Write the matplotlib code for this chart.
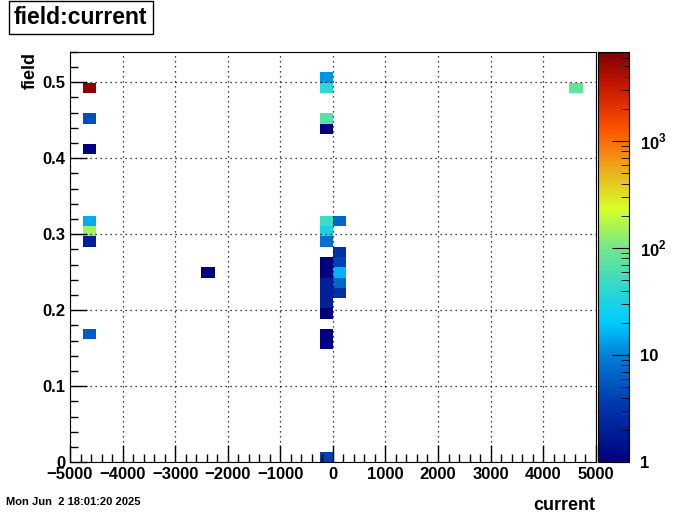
import numpy as np
import matplotlib
matplotlib.use("Agg")
import matplotlib.pyplot as plt
from matplotlib.colors import LinearSegmentedColormap, LogNorm
from matplotlib.ticker import MultipleLocator, FixedLocator

plt.rcParams['font.family'] = ['Liberation Sans', 'DejaVu Sans']
plt.rcParams['mathtext.fontset'] = 'custom'
plt.rcParams['mathtext.rm'] = 'Liberation Sans:bold'
plt.rcParams['mathtext.bf'] = 'Liberation Sans:bold'

# entries of the 2D histogram: bin centres and counts
current = [-4625, -4625, -4625, -4625, -4625, -4625, -4625,
           -2375,
           -125, -125, -125, -125, -125, -125, -125, -125, -125, -125, -125,
           -125, -125, -125, -125, -125,
           125, 125, 125, 125, 125, 125,
           4625]
field = [0.493, 0.452, 0.412, 0.317, 0.304, 0.290, 0.169,
         0.250,
         0.506, 0.493, 0.452, 0.439, 0.317, 0.304, 0.290, 0.263, 0.250,
         0.236, 0.223, 0.209, 0.196, 0.169, 0.155, 0.007,
         0.317, 0.277, 0.263, 0.250, 0.236, 0.223,
         0.493]
counts = [6000, 5, 1, 15, 150, 2, 6,
          1,
          12, 40, 70, 1, 50, 30, 8, 1, 1,
          2, 2, 2, 1, 1, 1, 4,
          7, 3, 4, 16, 7, 3,
          80]

x_edges = np.linspace(-5000, 5000, 41)
y_edges = np.linspace(0, 0.54, 41)
H, _, _ = np.histogram2d(current, field, bins=[x_edges, y_edges], weights=counts)
H = np.ma.masked_where(H <= 0, H)

# palette sampled from the colour bar
stops = [(0.00, (0.00, 0.00, 0.50)),
         (0.14, (0.00, 0.22, 0.68)),
         (0.26, (0.00, 0.50, 0.85)),
         (0.34, (0.00, 0.80, 1.00)),
         (0.43, (0.20, 0.85, 0.80)),
         (0.52, (0.45, 0.90, 0.55)),
         (0.62, (0.85, 1.00, 0.15)),
         (0.72, (0.93, 0.65, 0.10)),
         (0.81, (1.00, 0.33, 0.00)),
         (0.91, (0.80, 0.10, 0.00)),
         (1.00, (0.50, 0.00, 0.00))]
cmap = LinearSegmentedColormap.from_list('rootpal', stops, N=256)
norm = LogNorm(vmin=1, vmax=6800)

fig = plt.figure(figsize=(7, 5.14), dpi=100)
ax = fig.add_axes([0.1, 0.101, 0.751, 0.798])
cax = fig.add_axes([0.854, 0.101, 0.045, 0.798])

mesh = ax.pcolormesh(x_edges, y_edges, H.T, cmap=cmap, norm=norm)
ax.set_xlim(-5000, 5000)
ax.set_ylim(0, 0.54)

ax.xaxis.set_minor_locator(MultipleLocator(200))
ax.yaxis.set_minor_locator(MultipleLocator(0.02))
ax.tick_params(which='both', direction='in', top=False, right=False,
               labelsize=12, width=1)
ax.tick_params(which='major', length=12)
ax.tick_params(which='minor', length=6)
ax.set_xticks(np.arange(-5000, 5001, 1000))
ax.set_xticklabels([str(v).replace('-', '\u2212') for v in range(-5000, 5001, 1000)],
                   fontweight='bold')
ax.set_yticks(np.arange(0, 0.51, 0.1))
ax.set_yticklabels(['0', '0.1', '0.2', '0.3', '0.4', '0.5'], fontweight='bold')
ax.grid(True, which='major', color='black', linestyle=(0, (1, 3)), linewidth=0.9)
ax.set_axisbelow(False)

ax.set_xlabel('current', fontsize=13, fontweight='bold')
ax.xaxis.set_label_coords(1.0, -0.085)
ax.xaxis.label.set_horizontalalignment('right')
ax.set_ylabel('field', fontsize=13, fontweight='bold')
ax.yaxis.set_label_coords(-0.075, 1.0)
ax.yaxis.label.set_verticalalignment('center')
ax.yaxis.label.set_horizontalalignment('right')

cb = fig.colorbar(mesh, cax=cax)
cb.outline.set_linewidth(0.8)
cax.yaxis.set_major_locator(FixedLocator([1, 10, 100, 1000]))
cax.set_yticklabels(['1', '10', '$10^{2}$', '$10^{3}$'], fontweight='bold')
cax.tick_params(which='major', direction='in', length=12, labelsize=12, pad=8)
cax.tick_params(which='minor', direction='in', length=6)

fig.text(0.02, 0.966, 'field:current', fontsize=16.5, fontweight='bold',
         bbox=dict(facecolor='white', edgecolor='black', linewidth=1,
                   boxstyle='square,pad=0.22'),
         va='center')
fig.text(0.009, 0.017, 'Mon Jun  2 18:01:20 2025', fontsize=8, fontweight='bold')

fig.savefig('out.png', dpi=100)
